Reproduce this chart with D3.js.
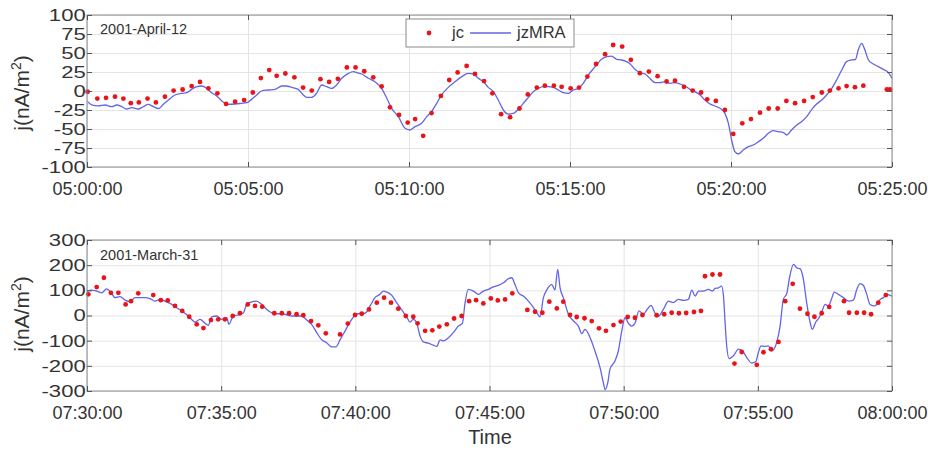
<!DOCTYPE html>
<html>
<head>
<meta charset="utf-8">
<script src="https://cdn.jsdelivr.net/npm/d3@7"></script>
<style>
  html, body { margin: 0; padding: 0; background: #fff; }
  svg { display: block; font-family: "Liberation Sans", Arial, sans-serif; }
</style>
</head>
<body>
<svg id="chart" width="928" height="450"></svg>
<script>
// ---------------- DATA ----------------
// Panel 1: 2001-April-12, 05:00:00 - 05:25:00 (times in minutes from start)
const topDate = "2001-April-12";
const topStart = "2001-04-12T05:00:00Z";
const topEnd = "2001-04-12T05:25:00Z";
const topYTicks = [-100, -75, -50, -25, 0, 25, 50, 75, 100];

const topJcMin = [0.02,0.32,0.59,0.87,1.13,1.36,1.61,1.88,2.14,2.42,
  2.69,2.97,3.25,3.51,3.77,4.05,4.32,4.60,4.88,5.15,
  5.40,5.66,5.89,6.16,6.44,6.71,6.98,7.25,7.52,7.79,
  8.07,8.34,8.61,8.89,9.15,9.41,9.69,9.96,10.19,10.44,
  10.70,10.99,11.25,11.51,11.79,12.05,12.33,12.59,12.86,13.14,
  13.43,13.69,13.97,14.22,14.50,14.74,15.02,15.28,15.54,15.81,
  16.09,16.34,16.62,16.89,17.17,17.45,17.72,18.00,18.26,18.54,
  18.81,19.07,19.26,19.53,19.81,20.07,20.35,20.62,20.90,21.17,
  21.45,21.72,21.99,22.27,22.54,22.82,23.07,23.34,23.59,23.85,
  24.11,24.84,24.94];
const topJcVal = [-1,-10,-9,-7.5,-10,-16,-15,-10,-15,-7.5,
  0.5,2,6.5,12,3.5,-3,-17,-14,-12,-2,
  17,27.5,20,23,18,4.5,0.5,15.5,12,16,
  31,31,26,18,6,-21.5,-31.5,-41.5,-37,-59,
  -29,-6.5,14.5,24.5,33,22.5,13,-3,-30.5,-34.5,
  -23,-4.5,4.5,7,7,5.5,3.5,4.5,19,35.5,
  48.5,60.5,58.5,41,23.5,25.5,19.5,12.5,13.5,5.5,
  0.5,-2,-11,-13,-25,-56.5,-42.5,-37,-28.5,-23,
  -23,-13,-16,-13,-8,-2,0.5,3.5,6.5,5,
  7,2,2];

const topMraMin = [0.02,0.145,0.35,0.56,0.77,0.92,1.08,1.23,1.39,1.59,1.75,1.90,2.06,2.22,2.37,2.53,2.73,2.94,3.10,3.25,
  3.41,3.56,3.72,3.87,4.03,4.18,4.34,4.60,4.80,4.96,5.11,5.27,5.42,5.63,5.84,6.05,6.20,6.36,6.56,6.72,
  6.82,6.98,7.13,7.29,7.44,7.60,7.75,7.91,8.12,8.27,8.40,8.53,8.74,8.94,9.15,9.31,9.46,9.67,9.88,10.03,
  10.19,10.39,10.55,10.70,10.86,11.01,11.22,11.43,11.64,11.84,12.00,12.15,12.31,12.46,12.62,12.77,12.93,13.08,13.24,13.40,
  13.55,13.71,13.86,14.02,14.17,14.33,14.48,14.64,14.79,14.95,15.10,15.26,15.41,15.57,15.78,15.98,16.14,16.29,16.45,16.60,
  16.76,16.86,17.02,17.17,17.33,17.48,17.64,17.80,17.95,18.11,18.26,18.42,18.57,18.73,18.88,19.04,19.19,19.35,19.50,19.66,
  19.81,19.92,20.02,20.12,20.23,20.38,20.54,20.69,20.85,21.00,21.16,21.31,21.47,21.63,21.73,21.88,22.04,22.19,22.35,22.51,
  22.66,22.82,22.97,23.13,23.28,23.44,23.59,23.75,23.87,23.95,24.06,24.14,24.27,24.42,24.58,24.73,24.89,25.00];
const topMraVal = [-14,-18.4,-19.7,-18.4,-20.6,-18.4,-20.6,-23.7,-21.9,-23.7,-20.6,-17.5,-20.6,-23.2,-17.5,-11.8,-5.3,-3.1,-2.2,2.2,
  5.7,6.6,3.5,-2.2,-6.6,-12.7,-17.5,-17.1,-16.2,-15.4,-11,-5.3,0,1.3,2.2,6.6,6.6,4.8,2.2,-5.3,
  -8.3,-8.3,-3.1,7.9,5.7,3.5,7.9,16.7,23.2,25.4,24,22.4,16.7,12.3,3.5,-9.6,-22.8,-33.8,-49.1,-51.3,
  -46.9,-42.5,-33.8,-27.2,-16.2,-5.3,4.8,12.3,18.9,23.2,22.4,16.7,12.3,4.8,-0.9,-11.8,-25,-30.3,-29.4,-24.1,
  -16.2,-8.3,-0.9,3.5,5.7,5.7,4.8,1.3,-2.2,-3.1,1.3,3.5,10.1,21.1,32,41.7,45.2,46,41.7,40.8,
  38.6,36,28.5,24.1,22.4,16.7,11,11,12.3,10.1,11,9.2,6.6,2.2,-0.9,-5.3,-11.8,-17.1,-19.7,-22.8,
  -29.4,-42.5,-64.5,-79.8,-82.9,-77.6,-73.2,-71.1,-66.7,-62.3,-55.7,-52.2,-53.5,-54.8,-57.9,-51.3,-44.7,-40.4,-33.8,-24.1,
  -17.1,-11.8,-5.3,3.5,14.5,27.6,38.6,40.8,41.7,53.9,62.7,56.1,40.8,35.5,32,28.5,24.1,16.7];

// Panel 2: 2001-March-31, 07:30:00 - 08:00:00 (times in minutes from start)
const botDate = "2001-March-31";
const botStart = "2001-03-31T07:30:00Z";
const botEnd = "2001-03-31T08:00:00Z";
const botYTicks = [-300, -200, -100, 0, 100, 200, 300];

const botJcMin = [0.05,0.36,0.63,0.89,1.17,1.44,1.64,1.91,2.47,2.75,
  3.01,3.28,3.55,3.81,4.09,4.34,4.62,4.89,5.14,5.43,
  5.70,5.99,6.26,6.53,6.98,7.26,7.53,7.81,8.06,8.35,
  8.62,8.90,9.43,9.72,9.99,10.24,10.51,10.80,11.07,11.33,
  11.60,11.88,12.16,12.32,12.60,12.87,13.13,13.41,13.68,13.96,
  14.24,14.50,14.77,15.05,15.31,15.58,15.85,16.41,16.70,16.97,
  17.23,17.51,17.75,18.00,18.25,18.54,18.81,19.08,19.34,19.62,
  19.89,20.15,20.42,20.70,21.23,21.51,21.79,22.06,22.33,22.62,
  22.88,23.03,23.31,23.59,24.13,24.40,24.96,25.21,25.49,25.77,
  26.02,26.30,26.57,26.85,27.11,27.38,27.66,28.21,28.40,28.69,
  28.96,29.22,29.49,29.77];
const botJcVal = [84,113,150,90,90,44,57,88,81,61,
  60,38,18,-5,-35,-50,-18,-15,-15,-2,
  9,44,38,35,9,9,9,5,1,-22,
  -39,-71,-75,-32,2,7,24,51,71,51,
  27,-2,-5,-31,-61,-59,-44,-35,-12,-2,
  57,61,48,68,60,64,88,22,15,11,
  55,28,55,2,-6,-11,-22,-51,-61,-38,
  -24,-6,-9,2,1,5,11,9,10,14,
  18,156,163,163,-191,-145,-196,-146,-134,-105,
  57,126,27,7,-5,9,34,57,11,11,
  11,5,51,81];

const botMraMin = [0,0.17,0.36,0.55,0.73,0.89,1.04,1.23,1.42,1.60,1.79,1.98,2.16,2.35,2.53,2.72,2.91,3.09,3.28,3.47,
  3.65,3.84,4.03,4.21,4.40,4.52,4.65,4.83,5.02,5.21,5.29,5.45,5.64,5.83,5.95,6.14,6.32,6.51,6.70,6.88,
  7.07,7.26,7.44,7.63,7.81,8.00,8.19,8.37,8.56,8.75,8.93,9.12,9.27,9.43,9.62,9.80,9.99,10.17,10.36,10.55,
  10.73,10.92,11.04,11.17,11.36,11.54,11.73,11.91,12.04,12.16,12.29,12.41,12.54,12.72,12.91,13.03,13.16,13.28,13.47,13.65,
  13.84,13.99,14.09,14.21,14.40,14.59,14.77,14.96,15.14,15.33,15.52,15.70,15.83,15.95,16.08,16.26,16.45,16.64,16.76,16.88,
  17.01,17.13,17.32,17.44,17.54,17.63,17.75,17.94,18.13,18.31,18.44,18.56,18.75,18.93,19.12,19.24,19.31,19.41,19.49,19.68,
  19.80,19.93,20.05,20.18,20.30,20.42,20.57,20.74,20.86,21.02,21.17,21.29,21.48,21.67,21.85,22.04,22.23,22.41,22.54,22.66,
  22.79,22.97,23.16,23.31,23.41,23.53,23.65,23.72,23.78,23.84,23.93,24.09,24.28,24.46,24.59,24.77,24.92,25.02,25.12,25.27,
  25.39,25.52,25.70,25.83,25.95,26.08,26.18,26.33,26.45,26.57,26.70,26.82,26.95,27.03,27.16,27.28,27.38,27.51,27.63,27.75,
  27.85,28.00,28.19,28.38,28.56,28.69,28.81,28.93,29.06,29.18,29.34,29.43,29.56,29.68,29.80,30.00];
const botMraVal = [97,101,97,90,106,93,71,75,61,55,71,71,71,67,57,64,57,48,35,22,
  9,-9,-26,-15,-31,-39,-5,-2,-15,-9,-35,-2,2,11,44,54,57,44,24,11,
  7,7,3,-2,-2,-2,-18,-35,-68,-97,-108,-125,-125,-97,-61,-26,1,8,9,38,
  71,84,97,93,80,51,22,-5,-26,-15,-31,-81,-105,-110,-118,-123,-97,-101,-88,-68,
  -42,-31,51,104,97,84,97,104,114,120,130,146,150,123,90,77,57,31,11,-5,
  71,101,123,101,183,110,71,5,-22,-42,-72,-55,-88,-141,-207,-266,-295,-266,-213,-180,
  -141,-61,-9,-31,-42,-31,18,5,22,40,9,-2,24,57,51,64,60,64,101,77,
  97,97,104,97,108,110,117,77,-28,-121,-171,-160,-134,-145,-167,-189,-184,-147,-121,-123,
  -121,-141,-108,-42,64,88,150,203,189,186,143,51,-28,-55,-26,-9,14,44,38,67,
  93,84,71,57,61,104,127,120,84,44,38,44,64,71,84,77];

const seriesNames = ["jc", "jzMRA"];
const yTitle = "j(nA/m";
const xTitle = "Time";

// ---------------- DRAWING ----------------
const svg = d3.select("#chart");
const LEFT = 87, RIGHT = 892;
const TEXT = "#333";
const RED = "#e8141a";
const BLUE = "#6464e6";

function panel(o) {
  const start = new Date(o.start), end = new Date(o.end);
  const toDate = m => new Date(start.getTime() + m * 60000);
  const x = d3.scaleUtc().domain([start, end]).range([LEFT, RIGHT]);
  const y = d3.scaleLinear().domain([o.yTicks[0], o.yTicks[o.yTicks.length - 1]]).range([o.y1, o.y0]);
  const g = svg.append("g");
  const xTicks = d3.utcMinute.every(5);

  // grid
  const gx = g.append("g").attr("transform", `translate(0,${o.y1})`)
    .call(d3.axisBottom(x).ticks(xTicks).tickSize(-(o.y1 - o.y0)).tickFormat(""));
  gx.select(".domain").remove();
  gx.selectAll("line").attr("stroke", "#e4e4e4");
  const gy = g.append("g").attr("transform", `translate(${LEFT},0)`)
    .call(d3.axisLeft(y).tickValues(o.yTicks).tickSize(-(RIGHT - LEFT)).tickFormat(""));
  gy.select(".domain").remove();
  gy.selectAll("line").attr("stroke", "#e4e4e4");

  // line
  const line = d3.line().x((d, i) => x(toDate(o.lnMin[i]))).y(d => y(d))
    .curve(d3.curveMonotoneX);
  g.append("path").datum(o.lnVal).attr("d", line)
    .attr("fill", "none").attr("stroke", BLUE).attr("stroke-width", 1.3)
    .attr("stroke-linejoin", "round");

  // dots
  g.append("g").selectAll("circle").data(o.jcVal).join("circle")
    .attr("cx", (d, i) => x(toDate(o.jcMin[i])))
    .attr("cy", d => y(d))
    .attr("r", 2.4).attr("fill", RED);

  // box
  g.append("rect").attr("x", LEFT).attr("y", o.y0)
    .attr("width", RIGHT - LEFT).attr("height", o.y1 - o.y0)
    .attr("fill", "none").attr("stroke", "#8a8a8a").attr("stroke-width", 1);

  // inward ticks
  const style = sel => {
    sel.select(".domain").remove();
    sel.selectAll("line").attr("stroke", "#555");
  };
  const ab = g.append("g").attr("transform", `translate(0,${o.y1})`)
    .call(d3.axisBottom(x).ticks(xTicks).tickFormat(d3.utcFormat("%H:%M:%S"))
      .tickSizeInner(-5).tickSizeOuter(0).tickPadding(15));
  style(ab);
  ab.selectAll("text").attr("font-size", 18).attr("fill", TEXT)
    .attr("font-family", "'Liberation Sans', Arial, sans-serif");
  const at = g.append("g").attr("transform", `translate(0,${o.y0})`)
    .call(d3.axisTop(x).ticks(xTicks).tickFormat("").tickSizeInner(-5).tickSizeOuter(0));
  style(at);
  const al = g.append("g").attr("transform", `translate(${LEFT},0)`)
    .call(d3.axisLeft(y).tickValues(o.yTicks).tickFormat(d => String(d))
      .tickSizeInner(-5).tickSizeOuter(0).tickPadding(1));
  style(al);
  al.selectAll("text").attr("font-size", 17).attr("fill", TEXT)
    .attr("font-family", "'Liberation Sans', Arial, sans-serif")
    .attr("transform", "scale(1.3,1)");
  const ar = g.append("g").attr("transform", `translate(${RIGHT},0)`)
    .call(d3.axisRight(y).tickValues(o.yTicks).tickFormat("").tickSizeInner(-5).tickSizeOuter(0));
  style(ar);

  // y title
  const yt = g.append("text")
    .attr("transform", `translate(29,${o.titleY}) rotate(-90)`)
    .attr("text-anchor", "middle").attr("font-size", 21).attr("fill", TEXT);
  yt.append("tspan").text(yTitle);
  yt.append("tspan").attr("font-size", 14).attr("dy", -8).text("2");
  yt.append("tspan").attr("dy", 8).text(")");

  // date label
  g.append("text").attr("x", 100).attr("y", o.dateY)
    .attr("font-size", 14.5).attr("fill", TEXT).text(o.date);
  return g;
}

panel({ y0: 15, y1: 167, start: topStart, end: topEnd, yTicks: topYTicks,
  jcMin: topJcMin, jcVal: topJcVal, lnMin: topMraMin, lnVal: topMraVal,
  date: topDate, dateY: 34, titleY: 93 });
panel({ y0: 240, y1: 391, start: botStart, end: botEnd, yTicks: botYTicks,
  jcMin: botJcMin, jcVal: botJcVal, lnMin: botMraMin, lnVal: botMraVal,
  date: botDate, dateY: 260, titleY: 314 });

// x title
svg.append("text").attr("x", 490).attr("y", 444).attr("text-anchor", "middle")
  .attr("font-size", 20).attr("fill", TEXT).text(xTitle);

// legend
const lg = svg.append("g");
lg.append("rect").attr("x", 406).attr("y", 19).attr("width", 168).attr("height", 28)
  .attr("fill", "#fff").attr("stroke", "#8a8a8a");
lg.append("circle").attr("cx", 429).attr("cy", 33).attr("r", 2.4).attr("fill", RED);
lg.append("text").attr("x", 452).attr("y", 38).attr("font-size", 16.5).attr("fill", TEXT).text(seriesNames[0]);
lg.append("line").attr("x1", 470).attr("x2", 511).attr("y1", 33).attr("y2", 33)
  .attr("stroke", BLUE).attr("stroke-width", 1.3);
lg.append("text").attr("x", 517).attr("y", 38).attr("font-size", 16.5).attr("fill", TEXT).text(seriesNames[1]);
</script>
</body>
</html>
